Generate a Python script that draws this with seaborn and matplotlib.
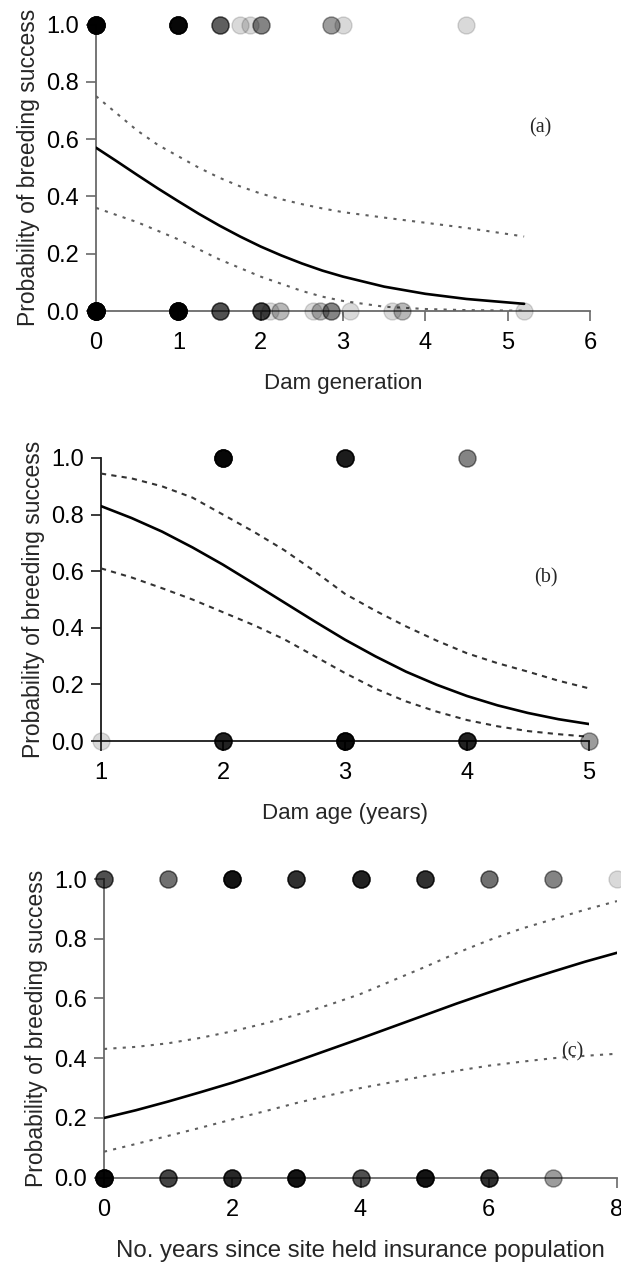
import numpy as np
import pandas as pd
import matplotlib
matplotlib.use("Agg")
import matplotlib.pyplot as plt
import seaborn as sns

# ---- (a) Dam generation ----
gen_success_x = [0, 1, 1.5, 1.75, 1.87, 2.0, 2.86, 3.0, 4.49]
gen_success_n = [25, 20, 6, 1, 1, 4, 3, 1, 1]
gen_fail_x = [0, 1, 1.5, 2.0, 2.11, 2.23, 2.63, 2.72, 2.86, 3.08, 3.6, 3.72, 5.2]
gen_fail_n = [30, 25, 7, 8, 1, 2, 1, 2, 4, 1, 1, 2, 1]
gen_curve_x = [0, 0.25, 0.5, 0.75, 1, 1.25, 1.5, 1.75, 2, 2.25, 2.5, 2.75, 3, 3.5, 4, 4.5, 5.2]
gen_fit = [0.570, 0.523, 0.475, 0.428, 0.383, 0.339, 0.298, 0.260, 0.225, 0.194,
           0.166, 0.141, 0.120, 0.085, 0.060, 0.042, 0.025]
gen_upper = [0.75, 0.69, 0.63, 0.58, 0.54, 0.50, 0.465, 0.435, 0.41, 0.39,
             0.373, 0.358, 0.345, 0.326, 0.308, 0.29, 0.26]
gen_lower = [0.36, 0.335, 0.31, 0.28, 0.25, 0.215, 0.18, 0.15, 0.12, 0.095,
             0.07, 0.05, 0.035, 0.015, 0.007, 0.003, 0.001]

# ---- (b) Dam age ----
age_success_x = [2, 3, 4]
age_success_n = [20, 13, 4]
age_fail_x = [1, 2, 3, 4, 5]
age_fail_n = [1, 12, 18, 12, 3]
age_curve_x = [1, 1.25, 1.5, 1.75, 2, 2.25, 2.5, 2.75, 3, 3.25, 3.5, 3.75, 4, 4.25, 4.5, 4.75, 5]
age_fit = [0.830, 0.788, 0.740, 0.684, 0.623, 0.557, 0.490, 0.423, 0.358,
           0.299, 0.245, 0.199, 0.159, 0.126, 0.099, 0.077, 0.060]
age_upper = [0.945, 0.928, 0.900, 0.860, 0.800, 0.740, 0.675, 0.600, 0.520,
             0.460, 0.405, 0.355, 0.310, 0.275, 0.245, 0.213, 0.186]
age_lower = [0.610, 0.578, 0.540, 0.500, 0.455, 0.410, 0.360, 0.300, 0.240,
             0.185, 0.140, 0.104, 0.074, 0.052, 0.035, 0.024, 0.015]

# ---- (c) Years since site held insurance population ----
site_success_x = [0, 1, 2, 3, 4, 5, 6, 7, 8]
site_success_n = [7, 5, 15, 10, 12, 10, 5, 4, 1]
site_fail_x = [0, 1, 2, 3, 4, 5, 6, 7]
site_fail_n = [20, 8, 11, 15, 7, 15, 10, 3]
site_curve_x = [0, 0.5, 1, 1.5, 2, 2.5, 3, 3.5, 4, 4.5, 5, 5.5, 6, 6.5, 7, 7.5, 8]
site_fit = [0.200, 0.226, 0.255, 0.286, 0.318, 0.353, 0.390, 0.428, 0.466,
            0.505, 0.544, 0.583, 0.620, 0.656, 0.690, 0.723, 0.753]
site_upper = [0.431, 0.438, 0.450, 0.468, 0.490, 0.516, 0.545, 0.578, 0.615,
              0.660, 0.705, 0.752, 0.795, 0.833, 0.865, 0.897, 0.926]
site_lower = [0.087, 0.113, 0.140, 0.167, 0.195, 0.222, 0.250, 0.275, 0.300,
              0.320, 0.340, 0.358, 0.375, 0.388, 0.400, 0.408, 0.415]

y_ticks = [0.0, 0.2, 0.4, 0.6, 0.8, 1.0]
y_label = "Probability of breeding success"

sns.set_theme(style="ticks")
plt.rcParams["font.family"] = ["Liberation Sans", "DejaVu Sans"]

W, H = 621, 1264
fig = plt.figure(figsize=(W / 100, H / 100), dpi=100)


def add_axes_px(left, right, top, bottom):
    return fig.add_axes([left / W, 1 - bottom / H, (right - left) / W, (bottom - top) / H])


def draw_panel(ax, sx, sn, fx, fn, cx, fit, lo, hi, xlim, xticks, xlabel,
               tag, tag_xy, spine_color, ci_color, ci_style, xlabel_size=16):
    obs = pd.DataFrame({
        "x": np.concatenate([np.repeat(sx, sn), np.repeat(fx, fn)]),
        "y": np.concatenate([np.ones(sum(sn)), np.zeros(sum(fn))]),
    })
    curves = pd.DataFrame({"x": cx, "fit": fit, "lo": lo, "hi": hi})

    sns.lineplot(data=curves, x="x", y="hi", color=ci_color, lw=1.5,
                 linestyle=ci_style, ax=ax, zorder=2)
    sns.lineplot(data=curves, x="x", y="lo", color=ci_color, lw=1.5,
                 linestyle=ci_style, ax=ax, zorder=2)
    sns.lineplot(data=curves, x="x", y="fit", color="black", lw=1.9,
                 ax=ax, zorder=2)
    sns.scatterplot(data=obs, x="x", y="y", color="black", alpha=0.15, s=150,
                    edgecolor="black", linewidth=1.0, ax=ax, clip_on=False,
                    legend=False, zorder=3)

    ax.set_xlim(*xlim)
    ax.set_ylim(0, 1)
    ax.set_xticks(xticks)
    ax.set_xticklabels([str(t) for t in xticks])
    ax.set_yticks(y_ticks)
    ax.set_yticklabels([f"{t:.1f}" for t in y_ticks])
    sns.despine(ax=ax)
    for side in ("left", "bottom"):
        ax.spines[side].set_color(spine_color)
        ax.spines[side].set_linewidth(1.3)
        ax.spines[side].set_zorder(1)
    ax.tick_params(axis="both", direction="out", length=7, width=1.2,
                   color=spine_color, labelsize=17, labelcolor="black")
    ax.tick_params(axis="x", pad=8)
    ax.tick_params(axis="y", pad=5)
    ax.set_xlabel(xlabel, fontsize=xlabel_size, labelpad=14)
    ax.set_ylabel(y_label, fontsize=16.5, labelpad=5)
    ax.text(*tag_xy, tag, fontsize=14.5, family="Liberation Serif",
            ha="center", va="center")
    ax.patch.set_alpha(0)


ax_a = add_axes_px(96, 590, 24.5, 311)
draw_panel(ax_a, gen_success_x, gen_success_n, gen_fail_x, gen_fail_n,
           gen_curve_x, gen_fit, gen_lower, gen_upper, (0, 6), [0, 1, 2, 3, 4, 5, 6],
           "Dam generation", "(a)", (5.4, 0.64), "#6a6a6a", "#5f5f5f", (0, (1.5, 3)))

ax_b = add_axes_px(101, 589, 458, 741)
draw_panel(ax_b, age_success_x, age_success_n, age_fail_x, age_fail_n,
           age_curve_x, age_fit, age_lower, age_upper, (1, 5), [1, 2, 3, 4, 5],
           "Dam age (years)", "(b)", (4.65, 0.576), "#1a1a1a", "#333333", (0, (2.5, 2.5)))

ax_c = add_axes_px(104, 617, 879, 1177.7)
draw_panel(ax_c, site_success_x, site_success_n, site_fail_x, site_fail_n,
           site_curve_x, site_fit, site_lower, site_upper, (0, 8), [0, 2, 4, 6, 8],
           "No. years since site held insurance population", "(c)", (7.3, 0.42),
           "#6a6a6a", "#5f5f5f", (0, (1.5, 3)), xlabel_size=17.3)

fig.savefig("out.png", dpi=100)
